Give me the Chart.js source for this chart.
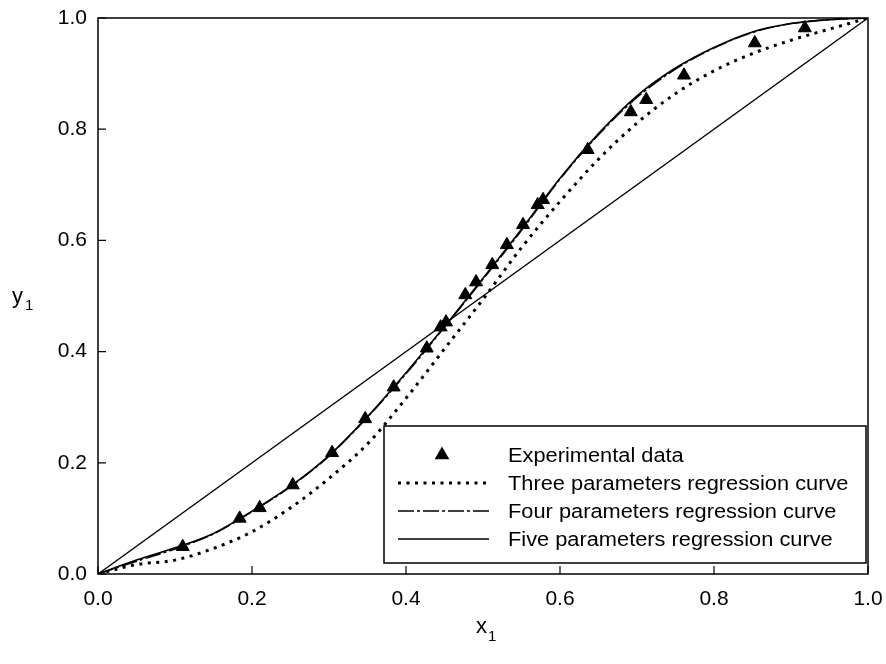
<!DOCTYPE html>
<html>
<head>
<meta charset="utf-8">
<script src="https://cdn.jsdelivr.net/npm/chart.js@4.4.1/dist/chart.umd.min.js"></script>
<style>
  html, body { margin: 0; padding: 0; background: #ffffff; }
  #wrap { width: 886px; height: 664px; }
</style>
</head>
<body>
<div id="wrap"><canvas id="c" width="886" height="664"></canvas></div>
<script>
// ---- data ----
const xTickLabels = ['0.0', '0.2', '0.4', '0.6', '0.8', '1.0'];
const yTickLabels = ['0.0', '0.2', '0.4', '0.6', '0.8', '1.0'];

const expX = [0.110, 0.184, 0.210, 0.253, 0.304, 0.347, 0.384, 0.427, 0.445, 0.452, 0.477, 0.491, 0.512, 0.531, 0.552, 0.571, 0.578, 0.636, 0.692, 0.712, 0.761, 0.853, 0.918];
const expY = [0.049, 0.100, 0.119, 0.160, 0.218, 0.279, 0.336, 0.406, 0.444, 0.453, 0.502, 0.525, 0.556, 0.592, 0.628, 0.664, 0.673, 0.763, 0.831, 0.853, 0.897, 0.955, 0.982];

const fitX = [0, 0.05, 0.10, 0.15, 0.20, 0.25, 0.30, 0.35, 0.40, 0.45, 0.50, 0.55, 0.60, 0.65, 0.70, 0.75, 0.80, 0.85, 0.90, 0.95, 1.0];
const threeY = [0, 0.017, 0.025, 0.046, 0.076, 0.119, 0.172, 0.234, 0.316, 0.405, 0.494, 0.587, 0.670, 0.746, 0.811, 0.864, 0.905, 0.936, 0.960, 0.980, 1.0];
const fourY  = [0, 0.023, 0.045, 0.072, 0.112, 0.157, 0.212, 0.282, 0.360, 0.444, 0.530, 0.618, 0.710, 0.790, 0.857, 0.908, 0.946, 0.974, 0.990, 0.997, 1.0];
const fiveY  = [0, 0.025, 0.047, 0.073, 0.113, 0.158, 0.213, 0.283, 0.362, 0.445, 0.532, 0.620, 0.712, 0.792, 0.860, 0.910, 0.947, 0.975, 0.990, 0.997, 1.0];

const diagX = [0, 1];
const diagY = [0, 1];

const seriesLabels = ['Experimental data', 'Three parameters regression curve', 'Four parameters regression curve', 'Five parameters regression curve'];
const axisTitleX = 'x';
const axisTitleY = 'y';
const axisSub = '1';

function pts(xs, ys) { return xs.map((x, i) => ({ x: x, y: ys[i] })); }

const FONT = '"Liberation Sans", Arial, Helvetica, sans-serif';

// ---- plugins ----
const whiteBg = {
  id: 'whiteBg',
  beforeDraw(chart) {
    const ctx = chart.ctx;
    ctx.save();
    ctx.fillStyle = '#ffffff';
    ctx.fillRect(0, 0, chart.width, chart.height);
    ctx.restore();
  }
};

const frame = {
  id: 'frame',
  afterDatasetsDraw(chart) {
    const ctx = chart.ctx;
    const a = chart.chartArea;
    const xs = chart.scales.x, ys = chart.scales.y;
    ctx.save();
    ctx.strokeStyle = '#000';
    ctx.lineWidth = 1.5;
    ctx.strokeRect(a.left, a.top, a.right - a.left, a.bottom - a.top);
    // inward ticks on bottom and left
    ctx.lineWidth = 1.2;
    ctx.beginPath();
    xs.ticks.forEach(t => {
      const px = xs.getPixelForValue(t.value);
      ctx.moveTo(px, a.bottom);
      ctx.lineTo(px, a.bottom - 8);
    });
    ys.ticks.forEach(t => {
      const py = ys.getPixelForValue(t.value);
      ctx.moveTo(a.left, py);
      ctx.lineTo(a.left + 8, py);
    });
    ctx.stroke();

    // legend box
    const bx = a.left + 286, by = a.bottom - 148, bw = a.right - 2 - bx, bh = 137;
    ctx.fillStyle = '#fff';
    ctx.fillRect(bx, by, bw, bh);
    ctx.lineWidth = 1.5;
    ctx.strokeRect(bx, by, bw, bh);
    const rowY0 = by + 29, step = 28;
    chart.data.datasets.forEach((ds, i) => {
      if (!ds.inLegend) return;
      const ry = rowY0 + i * step;
      ctx.save();
      if (ds.showLine === false) {
        Chart.helpers.drawPoint(ctx, {
          pointStyle: 'triangle', radius: 7, borderWidth: 1, rotation: 0
        }, bx + 58, ry);
        ctx.fillStyle = '#000';
        ctx.fill();
      } else {
        ctx.strokeStyle = '#000';
        ctx.lineWidth = ds.borderWidth;
        ctx.setLineDash(ds.borderDash || []);
        ctx.lineCap = 'butt';
        ctx.beginPath();
        ctx.moveTo(bx + 14, ry);
        ctx.lineTo(bx + 105, ry);
        ctx.stroke();
      }
      ctx.restore();
      ctx.save();
      ctx.fillStyle = '#000';
      ctx.font = '20px ' + FONT;
      ctx.textBaseline = 'middle';
      ctx.translate(bx + 124, ry + 1);
      ctx.scale(1.09, 1);
      ctx.fillText(ds.label, 0, 0);
      ctx.restore();
    });

    // axis titles with subscripts
    ctx.fillStyle = '#000';
    ctx.textBaseline = 'alphabetic';
    ctx.textAlign = 'left';
    const cx = (a.left + a.right) / 2;
    ctx.font = '22px ' + FONT;
    ctx.fillText(axisTitleX, cx - 7, 633);
    ctx.font = '15px ' + FONT;
    ctx.fillText(axisSub, cx + 5, 641);
    const cy = (a.top + a.bottom) / 2;
    ctx.font = '22px ' + FONT;
    ctx.fillText(axisTitleY, 12, cy + 7);
    ctx.font = '15px ' + FONT;
    ctx.fillText(axisSub, 25, cy + 14);
    ctx.restore();
  }
};

const commonLine = {
  showLine: true,
  pointRadius: 0,
  pointHoverRadius: 0,
  borderColor: '#000',
  backgroundColor: '#000',
  fill: false,
  cubicInterpolationMode: 'monotone',
  borderCapStyle: 'butt'
};

new Chart(document.getElementById('c'), {
  type: 'scatter',
  data: {
    datasets: [
      {
        label: seriesLabels[0], inLegend: true,
        data: pts(expX, expY),
        showLine: false,
        pointStyle: 'triangle',
        pointRadius: 7.5,
        pointHoverRadius: 7.5,
        borderWidth: 1,
        borderColor: '#000',
        backgroundColor: '#000'
      },
      Object.assign({}, commonLine, {
        label: seriesLabels[1], inLegend: true,
        data: pts(fitX, threeY),
        borderWidth: 3,
        borderDash: [3, 5.5]
      }),
      Object.assign({}, commonLine, {
        label: seriesLabels[2], inLegend: true,
        data: pts(fitX, fourY),
        borderWidth: 1.5,
        borderDash: [16, 3, 3, 3]
      }),
      Object.assign({}, commonLine, {
        label: seriesLabels[3], inLegend: true,
        data: pts(fitX, fiveY),
        borderWidth: 1.6
      }),
      Object.assign({}, commonLine, {
        label: '', inLegend: false,
        data: pts(diagX, diagY),
        borderWidth: 1.4,
        cubicInterpolationMode: 'default',
        tension: 0
      })
    ]
  },
  options: {
    responsive: false,
    animation: false,
    devicePixelRatio: 1,
    layout: { padding: { left: 0, right: 18, top: 18, bottom: 0 } },
    plugins: {
      legend: { display: false },
      tooltip: { enabled: false },
      title: { display: false }
    },
    events: [],
    scales: {
      x: {
        type: 'linear',
        min: 0, max: 1,
        grid: { display: false },
        border: { display: false },
        ticks: {
          stepSize: 0.2,
          color: '#000',
          font: { family: FONT, size: 21 },
          padding: 5,
          maxRotation: 0,
          callback: (v, i) => xTickLabels[i]
        },
        afterFit(s) { s.height = 90; s.paddingLeft = 0; s.paddingRight = 0; }
      },
      y: {
        type: 'linear',
        min: 0, max: 1,
        grid: { display: false },
        border: { display: false },
        ticks: {
          stepSize: 0.2,
          color: '#000',
          font: { family: FONT, size: 21 },
          padding: 3,
          callback: (v, i) => yTickLabels[i]
        },
        afterFit(s) { s.width = 98; s.paddingTop = 0; s.paddingBottom = 0; }
      }
    }
  },
  plugins: [whiteBg, frame]
});
</script>
</body>
</html>
